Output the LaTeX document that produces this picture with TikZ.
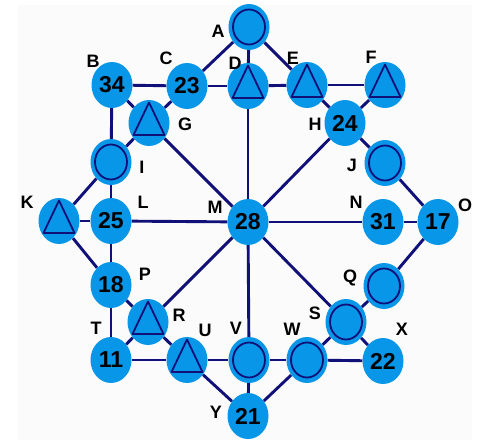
\documentclass[tikz,border=0pt]{standalone}
\usepackage{fontspec}
\setmainfont{Liberation Sans}
\usetikzlibrary{shapes.geometric,backgrounds}
\definecolor{nodeblue}{RGB}{8,150,232}
\definecolor{navyline}{RGB}{16,16,120}
\definecolor{paper}{RGB}{251,251,251}
\begin{document}
\begin{tikzpicture}[x=1pt,y=-1pt,
  vtx/.style={ellipse, fill=nodeblue, minimum width=41pt, minimum height=46pt, inner sep=0pt,
    font=\fontsize{23}{23}\selectfont\bfseries},
  circ/.style={vtx, path picture={\draw[navyline, line width=1.8pt] (path picture bounding box.center) ellipse [x radius=16pt, y radius=17.5pt];}},
  tri/.style={vtx, path picture={\draw[navyline, line width=1.8pt, line join=round]
     ([shift={(0pt,20.5pt)}]path picture bounding box.center) --
     ([shift={(-15.5pt,-12pt)}]path picture bounding box.center) --
     ([shift={(15.5pt,-12pt)}]path picture bounding box.center) -- cycle;}},
  lbl/.style={font=\fontsize{18}{18}\selectfont\bfseries, inner sep=0pt},
  link/.style={navyline, line width=2.9pt}]
\useasboundingbox (0,0) rectangle (491,442);
% nodes
\node[circ] (A) at (249,27) {};
\node[vtx]  (B) at (112,85) {34};
\node[vtx]  (C) at (187,86) {23};
\node[tri]  (D) at (248,86) {};
\node[tri]  (E) at (307,85) {};
\node[tri]  (F) at (385,85) {};
\node[tri]  (G) at (149,123) {};
\node[vtx]  (H) at (345,123) {24};
\node[circ] (I) at (111,162) {};
\node[circ] (J) at (385,163) {};
\node[tri]  (K) at (59,221) {};
\node[vtx]  (L) at (111,221) {25};
\node[vtx]  (M) at (248,222) {28};
\node[vtx]  (N) at (383,222) {31};
\node[vtx]  (O) at (438,222) {17};
\node[vtx]  (P) at (111,285) {18};
\node[circ] (Q) at (384,286) {};
\node[tri]  (R) at (148,322) {};
\node[circ] (S) at (346,322) {};
\node[vtx]  (T) at (111,360) {11};
\node[tri]  (U) at (187,360) {};
\node[circ] (V) at (249,360) {};
\node[circ] (W) at (307,360) {};
\node[vtx]  (X) at (383,361) {22};
\node[vtx]  (Y) at (248,416) {21};
% background and edges
\begin{scope}[on background layer]
\fill[paper] (18,5) rectangle (472,440);
\draw[link] (A) -- (C);
\draw[link] (A) -- (D);
\draw[link] (A) -- (E);
\draw[link] (B) -- (C);
\draw[link] (C) -- (D);
\draw[link] (D) -- (E);
\draw[link] (E) -- (F);
\draw[link] (E) -- (H);
\draw[link] (F) -- (H);
\draw[link] (B) -- (G);
\draw[link] (C) -- (G);
\draw[link] (B) -- (I);
\draw[link] (G) -- (I);
\draw[link] (G) -- (M);
\draw[link] (D) -- (M);
\draw[link] (H) -- (M);
\draw[link] (H) -- (J);
\draw[link] (J) -- (O);
\draw[link] (I) -- (K);
\draw[link] (I) -- (L);
\draw[link] (K) -- (L);
\draw[link] (L) -- (M);
\draw[link] (M) -- (N);
\draw[link] (N) -- (O);
\draw[link] (K) -- (P);
\draw[link] (L) -- (P);
\draw[link] (M) -- (R);
\draw[link] (P) -- (R);
\draw[link] (P) -- (T);
\draw[link] (R) -- (T);
\draw[link] (R) -- (U);
\draw[link] (T) -- (U);
\draw[link] (U) -- (V);
\draw[link] (V) -- (W);
\draw[link] (M) -- (V);
\draw[link] (M) -- (S);
\draw[link] (U) -- (Y);
\draw[link] (V) -- (Y);
\draw[link] (W) -- (Y);
\draw[link] (W) -- (X);
\draw[link] (W) -- (S);
\draw[link] (S) -- (Q);
\draw[link] (S) -- (X);
\draw[link] (Q) -- (O);
\end{scope}
% labels
\node[lbl] (lA) at (218,31) {A};
\node[lbl] (lB) at (93,61) {B};
\node[lbl] (lC) at (166,58) {C};
\node[lbl] (lD) at (235,63) {D};
\node[lbl] (lE) at (293,58) {E};
\node[lbl] (lF) at (371,57) {F};
\node[lbl] (lG) at (185,124) {G};
\node[lbl] (lH) at (315,124) {H};
\node[lbl] (lI) at (142,167) {I};
\node[lbl] (lJ) at (352,165) {J};
\node[lbl] (lK) at (27,202) {K};
\node[lbl] (lL) at (143,202) {L};
\node[lbl] (lM) at (215,207) {M};
\node[lbl] (lN) at (356,202) {N};
\node[lbl] (lO) at (465,205) {O};
\node[lbl] (lP) at (145,274) {P};
\node[lbl] (lQ) at (350,278) {Q};
\node[lbl] (lR) at (179,315) {R};
\node[lbl] (lS) at (315,313) {S};
\node[lbl] (lT) at (96,328) {T};
\node[lbl] (lU) at (205,330) {U};
\node[lbl] (lV) at (236,328) {V};
\node[lbl] (lW) at (292,329) {W};
\node[lbl] (lX) at (402,329) {X};
\node[lbl] (lY) at (216,412) {Y};
\end{tikzpicture}
\end{document}
